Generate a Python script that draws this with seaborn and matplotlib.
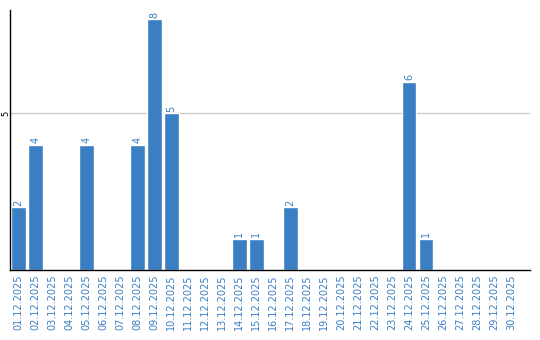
import matplotlib
matplotlib.use("Agg")
import matplotlib.pyplot as plt
import seaborn as sns
import pandas as pd

dates = [f"{d:02d}.12.2025" for d in range(1, 31)]
values = [2, 4, 0, 0, 4, 0, 0, 4, 8, 5, 0, 0, 0, 1, 1, 0, 2, 0, 0, 0, 0, 0, 0, 6, 1, 0, 0, 0, 0, 0]
yticks = [5]

df = pd.DataFrame({"date": dates, "value": values})

sns.set_theme(style="white")
plt.rcParams['font.family'] = ['DejaVu Sans']
color = "#3a7ec4"

fig = plt.figure(figsize=(5.4, 3.4), dpi=100)
ax = fig.add_axes([10/540, 70/340, 520/540, 260/340])
sns.barplot(data=df, x="date", y="value", color=color, width=0.84, saturation=1, ax=ax)

for i, v in enumerate(values):
    if v > 0:
        ax.text(i, v + 0.05, str(v), rotation=90, ha="center", va="bottom",
                color=color, fontsize=7)

ax.set_xlim(-0.5, 30.1)
ax.set_ylim(0, 8.3)
ax.set_yticks(yticks)
ax.set_yticklabels([str(t) for t in yticks], rotation=90, fontsize=6, va="center", color="black")
ax.yaxis.grid(True, color="#cccccc", linewidth=1)
ax.set_axisbelow(True)
ax.tick_params(axis="x", rotation=90, labelsize=7, labelcolor=color, length=0, pad=3)
ax.tick_params(axis="y", length=0, pad=0)
ax.set_xlabel("")
ax.set_ylabel("")
for s in ["top", "right"]:
    ax.spines[s].set_visible(False)
for s in ["left", "bottom"]:
    ax.spines[s].set_color("black")
    ax.spines[s].set_linewidth(1)

fig.savefig("out.png", dpi=100)
